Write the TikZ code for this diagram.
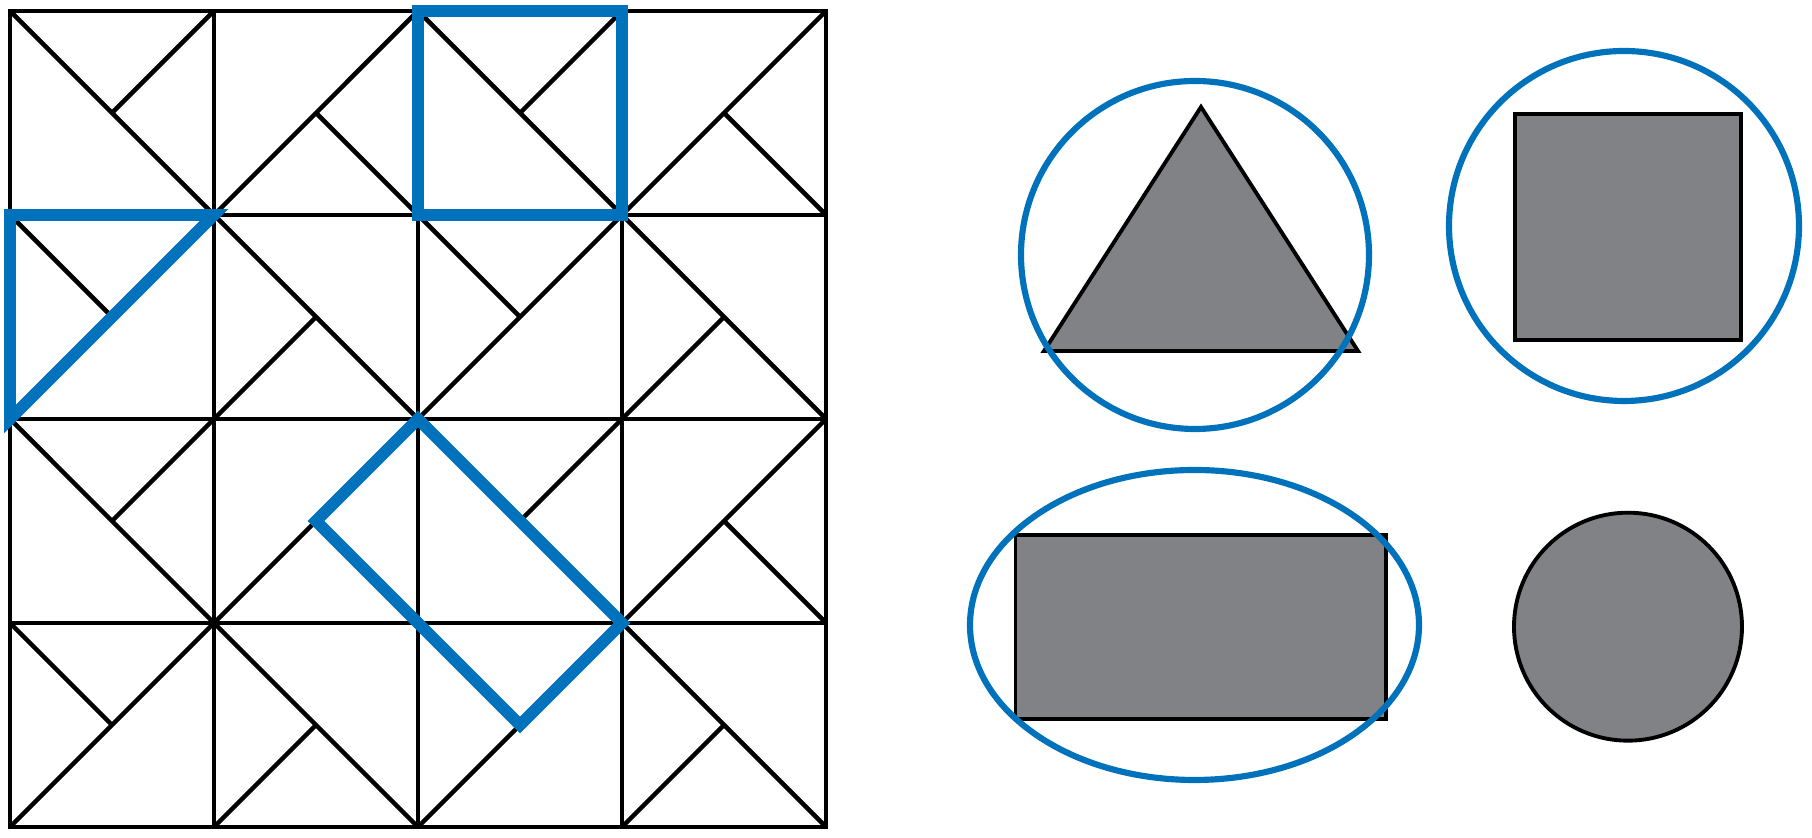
\documentclass[tikz,border=0pt]{standalone}
\usepackage[usenames,dvipsnames]{xcolor}
\usepackage{tkz-euclide}
\usetikzlibrary{calc}

\definecolor{hlblue}{RGB}{0,114,188}
\definecolor{fillgray}{RGB}{128,130,133}

\tikzset{
  gridline/.style={line width=1.3pt},
  hlline/.style={draw=hlblue, line width=3.4pt},
  hlring/.style={draw=hlblue, line width=1.75pt},
  solid shape/.style={draw=black, fill=fillgray, line width=1.1pt}
}

\begin{document}
\begin{tikzpicture}

\useasboundingbox (0,0) rectangle (18.12,8.38);

\foreach \i in {0,...,4}{
  \foreach \j in {0,...,4}{
    \tkzDefPoint({0.10+2.04*\i},{8.27-2.04*\j}){p\i\j}
  }
}
\foreach \i in {0,...,3}{
  \foreach \j in {0,...,3}{
    \tkzDefPoint({1.12+2.04*\i},{7.25-2.04*\j}){c\i\j}
  }
}

\draw[gridline] (p00) rectangle (p44);
\foreach \k in {1,2,3}{
  \draw[gridline] (p\k0) -- (p\k4);
  \draw[gridline] (p0\k) -- (p4\k);
}

\draw[gridline] (p00) -- (p11) (p10) -- (c00);
\draw[gridline] (p11) -- (p20) (p21) -- (c10);
\draw[gridline] (p20) -- (p31) (p30) -- (c20);
\draw[gridline] (p31) -- (p40) (p41) -- (c30);

\draw[gridline] (p02) -- (p11) (p01) -- (c01);
\draw[gridline] (p11) -- (p22) (p12) -- (c11);
\draw[gridline] (p22) -- (p31) (p21) -- (c21);
\draw[gridline] (p31) -- (p42) (p32) -- (c31);

\draw[gridline] (p02) -- (p13) (p12) -- (c02);
\draw[gridline] (p13) -- (p22) (p23) -- (c12);
\draw[gridline] (p22) -- (p33) (p32) -- (c22);
\draw[gridline] (p33) -- (p42) (p43) -- (c32);

\draw[gridline] (p04) -- (p13) (p03) -- (c03);
\draw[gridline] (p13) -- (p24) (p14) -- (c13);
\draw[gridline] (p24) -- (p33) (p23) -- (c23);
\draw[gridline] (p33) -- (p44) (p34) -- (c33);

\draw[hlline] (p20) -- (p30) -- (p31) -- (p21) -- cycle;
\draw[hlline] (p01) -- (p11) -- (p02) -- cycle;
\draw[hlline] (p22) -- (p33) -- (c23) -- (c12) -- cycle;

\tkzDefPoint(12.01,7.31){t1}
\tkzDefPoint(10.44,4.87){t2}
\tkzDefPoint(13.58,4.87){t3}
\tkzDefPoint(11.95,5.83){Ot}

\tkzDefPoint(15.15,4.98){s1}
\tkzDefPoint(17.41,7.24){s2}
\tkzDefPoint(16.24,6.12){Os}

\tkzDefPoint(10.155,1.19){r1}
\tkzDefPoint(13.86,3.03){r2}
\tkzDefPoint(11.945,2.13){Or}

\tkzDefPoint(16.28,2.113){Od}

\draw[solid shape] (t1) -- (t2) -- (t3) -- cycle;
\draw[solid shape] (s1) rectangle (s2);
\draw[solid shape] (r1) rectangle (r2);
\draw[solid shape] (Od) circle (1.14);

\draw[hlring] (Ot) circle (1.74);
\draw[hlring] (Os) circle (1.75);
\draw[hlring] (Or) ellipse (2.245 and 1.55);

\end{tikzpicture}
\end{document}
